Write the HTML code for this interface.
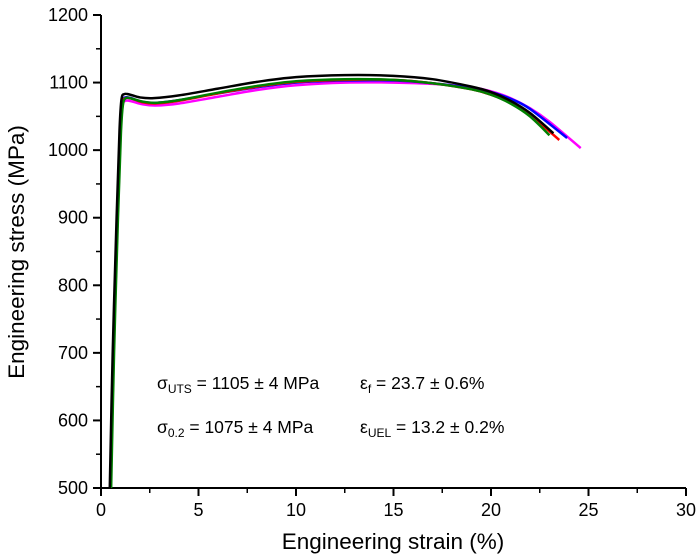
<!DOCTYPE html>
<html><head><meta charset="utf-8"><style>
html,body{margin:0;padding:0;background:#fff}
svg{display:block;font-family:"Liberation Sans",Arial,sans-serif}
</style></head><body>
<svg id="chart" width="700" height="558" viewBox="0 0 700 558" xmlns="http://www.w3.org/2000/svg">
<g id="axes"></g>
<g id="series"></g>
<g font-size="17.5" fill="#000" xml:space="preserve">
<text x="157" y="389">σ<tspan font-size="12" dy="4">UTS</tspan><tspan dy="-4">  = 1105 ± 4 MPa</tspan></text>
<text x="360" y="389">ε<tspan font-size="12" dy="4">f</tspan><tspan dy="-4"> = 23.7 ± 0.6%</tspan></text>
<text x="157" y="433">σ<tspan font-size="12" dy="4">0.2</tspan><tspan dy="-4">  = 1075 ± 4 MPa</tspan></text>
<text x="360" y="433">ε<tspan font-size="12" dy="4">UEL</tspan><tspan dy="-4"> = 13.2 ± 0.2%</tspan></text>
</g>
<text x="393" y="549" font-size="22.5" text-anchor="middle">Engineering strain (%)</text>
<text transform="translate(24,252) rotate(-90)" font-size="22.5" text-anchor="middle">Engineering stress (MPa)</text>
</svg>
<script>
const xTicks=[0,5,10,15,20,25,30];
const yTicks=[500,600,700,800,900,1000,1100,1200];
const seriesColors=["#000000","#ff0000","#0000ff","#008000","#ff00ff"];
const seriesNames=["black","red","blue","green","magenta"];
const strainBlack=[0.45,0.6,0.8,0.95,1.05,1.2,1.5,2.0,2.7,4,6,8,10,12.5,15,17,19,20,21,22,23.2];
const stressBlack=[500,700,900,1030,1075,1083,1082,1078,1077,1081,1091,1101,1108,1111,1110,1105,1094,1086,1073,1055,1025];
const strainRed=[0.5,0.65,0.85,1.0,1.1,1.25,1.6,2.1,2.8,4,6,8,10,12.5,15,17,19,20,21,22,23.5];
const stressRed=[500,700,900,1025,1068,1077,1076,1071,1069,1073,1084,1094,1101,1104,1104,1099,1090,1082,1070,1052,1015];
const strainBlue=[0.48,0.63,0.83,0.98,1.08,1.23,1.55,2.05,2.8,4,6,8,10,12.5,15,17,19,20,21,22,23.9];
const stressBlue=[500,700,900,1028,1070,1078,1077,1072,1070,1074,1084,1093,1100,1103,1103,1099,1092,1086,1076,1061,1018];
const strainGreen=[0.52,0.67,0.87,1.02,1.12,1.27,1.6,2.1,2.8,4,6,8,10,12.5,15,17,19,20,21,22,23.0];
const stressGreen=[500,700,900,1024,1066,1077,1076,1072,1070,1074,1085,1095,1102,1105,1104,1099,1090,1082,1069,1050,1022];
const strainMagenta=[0.5,0.65,0.85,1.0,1.1,1.25,1.6,2.1,2.8,4,6,8,10,12.5,15,17,19,20,21,22,23,24.6];
const stressMagenta=[500,700,900,1022,1064,1073,1072,1068,1066,1069,1079,1089,1096,1100,1100,1098,1093,1087,1077,1062,1042,1003];
const allStrain=[strainBlack,strainRed,strainBlue,strainGreen,strainMagenta];
const allStress=[stressBlack,stressRed,stressBlue,stressGreen,stressMagenta];
const NS="http://www.w3.org/2000/svg";
const X0=101,X1=686,Y0=488,Y1=15;
function sx(v){return X0+(v-0)/(30-0)*(X1-X0);}
function sy(v){return Y0-(v-500)/(1200-500)*(Y0-Y1);}
const axes=document.getElementById('axes');
function mk(tag,attrs,parent){const e=document.createElementNS(NS,tag);for(const k in attrs)e.setAttribute(k,attrs[k]);parent.appendChild(e);return e;}
let l=mk('line',{x1:X0,y1:Y0,x2:X1,y2:Y0,stroke:'#000','stroke-width':2},axes);


l=mk('line',{x1:X0,y1:Y0,x2:X0,y2:Y1,stroke:'#000','stroke-width':2},axes);


xTicks.forEach((t,i)=>{
 const x=sx(t);
 let tk=mk('line',{x1:x,y1:Y0,x2:x,y2:Y0+8,stroke:'#000','stroke-width':2},axes);
 
 
 if(i<xTicks.length-1){let m=mk('line',{x1:sx(t+2.5),y1:Y0,x2:sx(t+2.5),y2:Y0+5,stroke:'#000','stroke-width':1.5},axes);
 
 }
 const tx=mk('text',{x:x,y:Y0+28,'font-size':18,'text-anchor':'middle'},axes);tx.textContent=t;
 
 
});
yTicks.forEach((t,i)=>{
 const y=sy(t);
 let tk=mk('line',{x1:X0-8,y1:y,x2:X0,y2:y,stroke:'#000','stroke-width':2},axes);
 
 
 if(i<yTicks.length-1){let m=mk('line',{x1:X0-5,y1:sy(t+50),x2:X0,y2:sy(t+50),stroke:'#000','stroke-width':1.5},axes);
 
 }
 const tx=mk('text',{x:X0-13,y:y+6,'font-size':18,'text-anchor':'end'},axes);tx.textContent=t;
 
 
});
function smooth(pts){let d='M'+pts[0][0]+','+pts[0][1];
 for(let i=0;i<pts.length-1;i++){const p0=pts[i-1]||pts[i],p1=pts[i],p2=pts[i+1],p3=pts[i+2]||p2;
 const c1=[p1[0]+(p2[0]-p0[0])/6,p1[1]+(p2[1]-p0[1])/6],c2=[p2[0]-(p3[0]-p1[0])/6,p2[1]-(p3[1]-p1[1])/6];
 d+=' C'+c1+' '+c2+' '+p2;}return d;}
const sg=document.getElementById('series');
[4,2,1,3,0].forEach(k=>{
 const pts=allStrain[k].map((v,i)=>[sx(v),sy(allStress[k][i])]);
 const p=mk('path',{d:smooth(pts),fill:'none',stroke:seriesColors[k],'stroke-width':2.5,'stroke-linejoin':'round'},sg);
 
 
});
</script>
</body></html>
